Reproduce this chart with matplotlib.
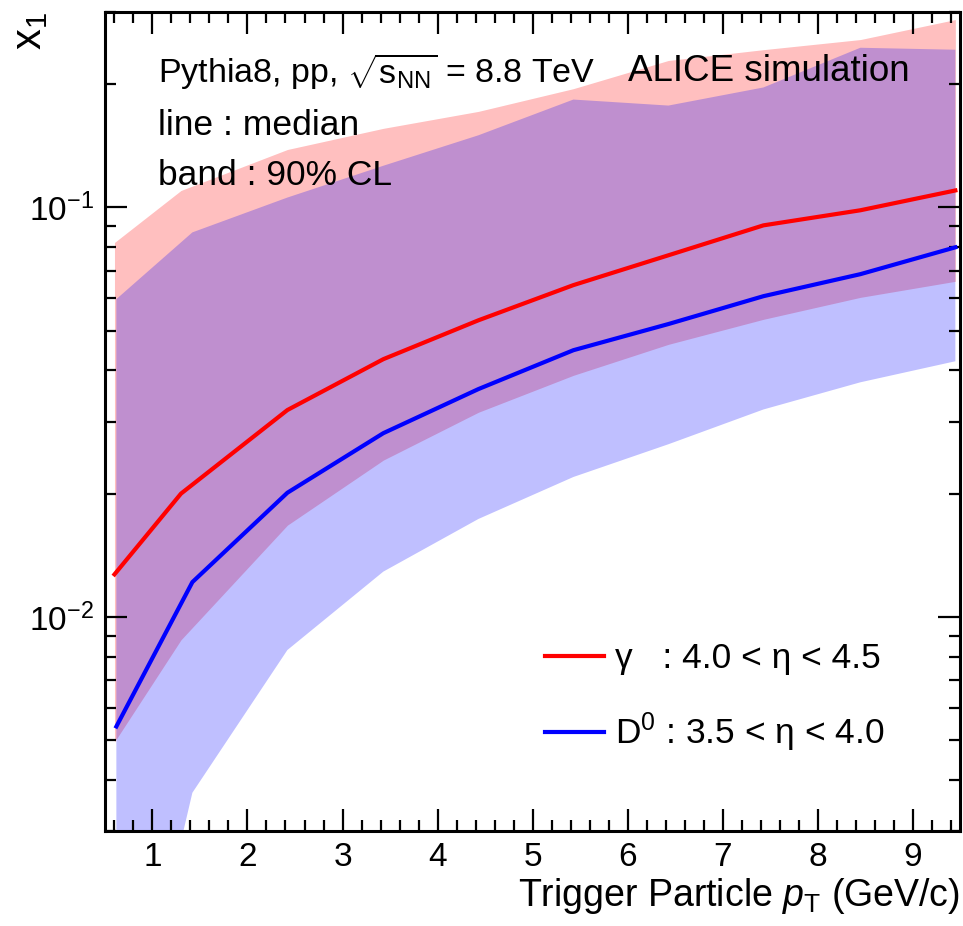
import numpy as np
import matplotlib.pyplot as plt
from matplotlib.ticker import LogLocator, NullFormatter, MultipleLocator

plt.rcParams["font.family"] = ["Liberation Sans", "DejaVu Sans"]
plt.rcParams["mathtext.fontset"] = "custom"
plt.rcParams["mathtext.rm"] = "Liberation Sans"
plt.rcParams["mathtext.it"] = "Liberation Sans:italic"
plt.rcParams["mathtext.sf"] = "Liberation Sans"

# trigger pT points
pt_gamma = [0.6, 1.3, 2.42, 3.43, 4.43, 5.43, 6.43, 7.43, 8.45, 9.45]
pt_d0 = [0.62, 1.42, 2.42, 3.43, 4.43, 5.43, 6.43, 7.43, 8.45, 9.45]

# gamma, 4.0 < eta < 4.5 : median and 90% band
gamma_med = [0.0127, 0.0200, 0.0320, 0.0426, 0.0530, 0.0646, 0.0764, 0.0904, 0.0984, 0.110]
gamma_lo = [0.00495, 0.00879, 0.01675, 0.02415, 0.0316, 0.0389, 0.0463, 0.0533, 0.0603, 0.066]
gamma_hi = [0.0821, 0.110, 0.1385, 0.156, 0.1716, 0.195, 0.2285, 0.2428, 0.257, 0.2876]

# D0, 3.5 < eta < 4.0 : median and 90% band
d0_med = [0.0054, 0.01216, 0.0201, 0.0281, 0.0360, 0.0448, 0.0519, 0.0607, 0.0687, 0.0799]
d0_lo = [0.0006, 0.00372, 0.0083, 0.0129, 0.01734, 0.02196, 0.0264, 0.0321, 0.0374, 0.0421]
d0_hi = [0.0597, 0.0869, 0.1057, 0.1264, 0.150, 0.1834, 0.1773, 0.1963, 0.2454, 0.2427]

fig = plt.figure(figsize=(9.63, 9.26), dpi=100)
ax = fig.add_axes([0.109, 0.1026, 0.888, 0.8844])

ax.fill_between(pt_gamma, gamma_lo, gamma_hi, color="red", alpha=0.25, lw=0)
ax.fill_between(pt_d0, d0_lo, d0_hi, color="blue", alpha=0.25, lw=0)
ax.plot(pt_gamma, gamma_med, color="red", lw=3, label="γ   : 4.0 < η < 4.5")
ax.plot(pt_d0, d0_med, color="blue", lw=3, label="D$^0$ : 3.5 < η < 4.0")

ax.set_yscale("log")
ax.set_xlim(0.5, 9.5)
ax.set_ylim(0.003, 0.3)
ax.axhline(0.003, color="#2828a0", lw=1.2, zorder=1)

# ROOT-like ticks
ax.xaxis.set_major_locator(MultipleLocator(1))
ax.xaxis.set_minor_locator(MultipleLocator(0.2))
ax.yaxis.set_major_locator(LogLocator(base=10))
ax.yaxis.set_minor_locator(LogLocator(base=10, subs=np.arange(2, 10)))
ax.yaxis.set_minor_formatter(NullFormatter())
ax.tick_params(which="both", direction="in", top=True, right=True, width=1.6, labelsize=24)
ax.tick_params(which="major", length=16, pad=8)
ax.tick_params(which="minor", length=8)
for s in ax.spines.values():
    s.set_linewidth(2.2)

ax.set_xlabel("Trigger Particle $p_{\\mathrm{T}}$ (GeV/c)", loc="right", fontsize=27, labelpad=2)
ax.set_ylabel("x$_1$", loc="top", fontsize=30)
ax.yaxis.set_label_coords(-0.064, 1.0)

ax.text(0.062, 0.927, "Pythia8, pp, $\\sqrt{\\mathrm{s}_{\\mathrm{NN}}}$ = 8.8 TeV", transform=ax.transAxes,
        fontsize=24.5, va="center")
ax.text(0.612, 0.927, "ALICE simulation", transform=ax.transAxes, fontsize=26.5, va="center")
ax.text(0.062, 0.861, "line : median", transform=ax.transAxes, fontsize=25.5, va="center")
ax.text(0.062, 0.800, "band : 90% CL", transform=ax.transAxes, fontsize=25.5, va="center")

ax.legend(loc="center left", bbox_to_anchor=(0.515, 0.162), frameon=False, fontsize=25.5,
          handlelength=1.66, handletextpad=0.3, labelspacing=1.0, borderpad=0, borderaxespad=0)

fig.savefig("out.png", dpi=100)
